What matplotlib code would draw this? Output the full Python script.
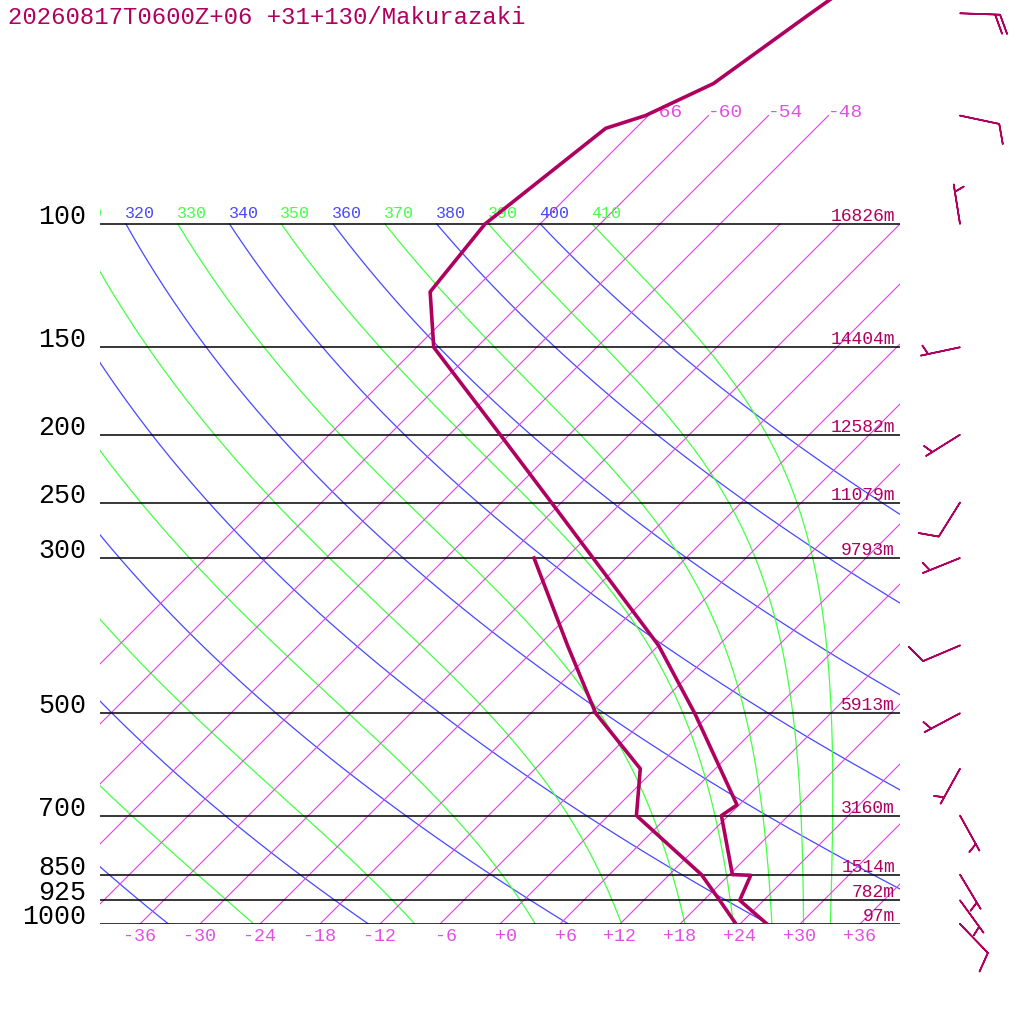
import numpy as np
import matplotlib
matplotlib.use("Agg")
import matplotlib.pyplot as plt
from matplotlib.transforms import offset_copy

plt.rcParams["font.family"] = ["Liberation Mono", "DejaVu Sans Mono"]
plt.rcParams["axes.unicode_minus"] = False

TITLE = "20260817T0600Z+06 +31+130/Makurazaki"

# temperature profile (hPa, degC)
t_pres = [1000, 925, 852, 850, 700, 676, 600, 500, 400, 300, 250, 200,
          150, 125, 100, 73, 70, 63, 50, 40]
t_temp = [26.7, 21.6, 20.2, 18.3, 11.3, 11.8, 6.5, -1.6, -12.0, -27.3, -37.0, -48.9,
          -64.3, -70.2, -71.5, -69.0, -66.3, -62.7, -60.0, -57.2]

# dewpoint profile (hPa, degC)
d_pres = [1000, 925, 850, 700, 600, 500, 400, 300]
d_temp = [23.6, 19.6, 15.2, 2.8, -1.5, -11.5, -21.1, -33.2]

# wind (direction deg, speed kt)
w_pres = [1000, 925, 850, 700, 600, 500, 400, 300, 250, 200, 150, 100, 70, 50]
w_dir = [136, 144, 149, 151, 209, 242, 247, 248, 212, 238, 258, 351, 102, 92]
w_kt = [10, 5, 5, 5, 5, 5, 10, 5, 10, 5, 5, 5, 10, 20]

# labelled levels and heights
lvl_pres = [1000, 925, 850, 700, 500, 300, 250, 200, 150, 100]
lvl_hgt = [97, 782, 1514, 3160, 5913, 9793, 11079, 12582, 14404, 16826]

temp_ticks = list(range(-36, 37, 6))
isotherms = list(range(-66, 37, 6))
dry_theta = list(range(240, 401, 20))
moist_theta = list(range(250, 411, 20))

PROF_C = "#b0005f"
ISO_C = "#dd44dd"
TICK_C = "#e250e2"
BLUE = "#4848ff"
GREEN = "#44ff44"

SKEW = 30.4
P_TOP = 1000 * np.exp(-924 / 304)
KAPPA = 0.2857


def skew_x(t, p):
    return np.asarray(t, dtype=float) + SKEW * np.log(1000.0 / np.asarray(p, dtype=float))


def moist_lapse(t, p):
    es = 6.112 * np.exp(17.67 * (t - 273.15) / (t - 29.65))
    rs = 0.622 * es / (p - es)
    num = 287.04 * t + 2.501e6 * rs
    den = 1005.7 + 2.501e6 ** 2 * rs * 0.622 / (287.04 * t * t)
    return num / den / p


def moist_adiabat(t_top, pres):
    out = [t_top]
    t = t_top
    for p0, p1 in zip(pres[:-1], pres[1:]):
        h = p1 - p0
        k1 = moist_lapse(t, p0)
        k2 = moist_lapse(t + h / 2 * k1, p0 + h / 2)
        k3 = moist_lapse(t + h / 2 * k2, p0 + h / 2)
        k4 = moist_lapse(t + h * k3, p1)
        t = t + h / 6 * (k1 + 2 * k2 + 2 * k3 + k4)
        out.append(t)
    return np.array(out)


def adiabat_label(th, color):
    # label sits at the top end (100 hPa); skip ones that fall fully off the left
    x = skew_x(th * 0.1 ** KAPPA - 273.15, 100)
    if x < -44:
        return
    ax.text(x, 100, str(th),
            transform=offset_copy(ax.transData, fig, x=-1, y=6, units="dots"),
            ha="left", va="baseline", fontsize=12, color=color, clip_on=True)


fig = plt.figure(figsize=(10.24, 10.24), dpi=100)
ax = fig.add_axes([100 / 1024, 100 / 1024, 800 / 1024, 924 / 1024])
ax.set_yscale("log")
ax.set_ylim(1000, P_TOP)
ax.set_xlim(-40, 40)
for s in ax.spines.values():
    s.set_visible(False)
ax.tick_params(axis="y", which="both", left=False, labelleft=False)
ax.set_xticks(temp_ticks)
ax.set_xticklabels([f"{t:+3d}" for t in temp_ticks])
ax.tick_params(axis="x", length=0, pad=3, labelsize=13.2, labelcolor=TICK_C)
ax.xaxis.set_minor_locator(matplotlib.ticker.NullLocator())
ax.yaxis.set_minor_locator(matplotlib.ticker.NullLocator())

# dry adiabats
pp = np.geomspace(100, 1000, 80)
for th in dry_theta:
    tt = th * (pp / 1000.0) ** KAPPA - 273.15
    ax.plot(skew_x(tt, pp), pp, color=BLUE, lw=0.9, zorder=1)
    adiabat_label(th, BLUE)

# moist adiabats
pm = np.linspace(100, 1000, 181)
for th in moist_theta:
    tt = moist_adiabat(th * 0.1 ** KAPPA, pm) - 273.15
    ax.plot(skew_x(tt, pm), pm, color=GREEN, lw=0.9, zorder=1)
    adiabat_label(th, GREEN)

# isotherms
for t in isotherms:
    ptop = 70 if t <= -48 else 100
    pl = np.array([1000, ptop])
    ax.plot(skew_x([t, t], pl), pl, color=ISO_C, lw=0.8, zorder=1.5)
    if t <= -48:
        ax.text(skew_x(t, ptop), ptop, f"{t:d}",
                transform=offset_copy(ax.transData, fig, x=-1, y=-1, units="dots"),
                ha="left", va="baseline", fontsize=14, color=TICK_C, clip_on=True)

# isobars, pressure and height labels
ax.hlines(lvl_pres, -40, 40, color="black", lw=1.1, zorder=2)
for p, h in zip(lvl_pres, lvl_hgt):
    ax.annotate(str(p), xy=(0, p), xycoords=("axes fraction", "data"),
                xytext=(-14, 0), textcoords="offset pixels", ha="right",
                va="baseline", fontsize=19.2, color="black", annotation_clip=False)
    ax.annotate(f"{h}m", xy=(1, p), xycoords=("axes fraction", "data"),
                xytext=(-5, 3), textcoords="offset pixels", ha="right",
                va="baseline", fontsize=13, color=PROF_C, annotation_clip=False)

# sounding
ax.plot(skew_x(t_temp, t_pres), t_pres, color=PROF_C, lw=2.6, zorder=5)
ax.plot(skew_x(d_temp, d_pres), d_pres, color=PROF_C, lw=2.6, zorder=5)

fig.text(8 / 1024, 1 - 24 / 1024, TITLE, fontsize=17.2, color=PROF_C,
         ha="left", va="baseline")

# wind barbs
wax = fig.add_axes([900 / 1024, 100 / 1024, 124 / 1024, 924 / 1024])
wax.set_yscale("log")
wax.set_ylim(1000, P_TOP)
wax.set_xlim(-60, 64)
wax.axis("off")
spd = np.array(w_kt, dtype=float)
rad = np.deg2rad(w_dir)
u = -spd * np.sin(rad)
v = -spd * np.cos(rad)
wax.barbs(np.zeros(len(w_pres)), w_pres, u, v, length=7.6, color=PROF_C,
          linewidth=1.2, clip_on=False,
          sizes=dict(height=0.47, width=0.38, spacing=0.125))

fig.savefig("out.png", dpi=100, facecolor="white")
